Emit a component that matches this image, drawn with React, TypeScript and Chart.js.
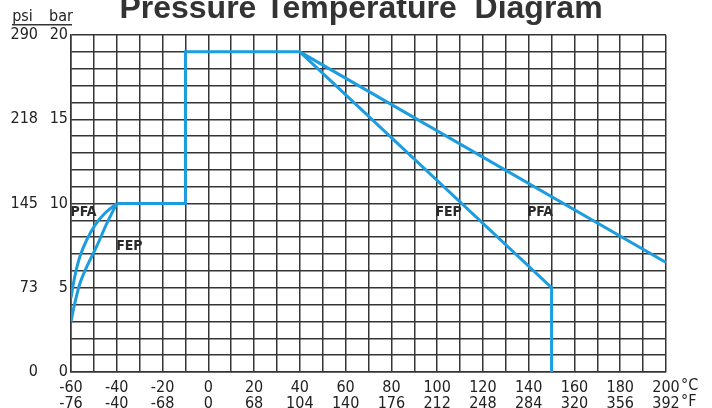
import React, { useEffect, useRef } from 'react';
import { Chart, registerables } from 'chart.js';

Chart.register(...registerables);

// Axis labels
const celsiusTicks = [-60, -40, -20, 0, 20, 40, 60, 80, 100, 120, 140, 160, 180, 200];
const fahrenheitLabels = ['-76', '-40', '-68', '0', '68', '104', '140', '176', '212', '248', '284', '320', '356', '392'];
const barTicks = [0, 5, 10, 15, 20];
const psiLabels = ['0', '73', '145', '218', '290'];

// Series (temperature °C, pressure bar)
const pfaCurveT = [-60, -58.3, -56.1, -53.1, -49.5, -45.2, -40];
const pfaCurveP = [4.4, 5.7, 6.85, 7.85, 8.72, 9.42, 10];
const fepCurveT = [-60, -58.3, -56.1, -53.1, -48.8, -44.4, -40];
const fepCurveP = [3.0, 4.1, 5.25, 6.25, 7.45, 8.8, 10];
const pfaLineT = [-40, -10, -10, 40, 200];
const pfaLineP = [10, 10, 19, 19, 6.5];
const fepLineT = [40, 150, 150];
const fepLineP = [19, 5, 0];

// Curve annotations (°C, bar)
const labelText = ['PFA', 'FEP', 'FEP', 'PFA'];
const labelT = [-54.5, -34.5, 105, 145];
const labelP = [9.5, 7.5, 9.5, 9.5];

const BLUE = '#1c9de0';
const GRID = '#353535';
const NARROW = '"DejaVu Sans Condensed", "Liberation Sans Narrow", sans-serif';

const toPts = (xs: number[], ys: number[]) => xs.map((x, i) => ({ x, y: ys[i] }));

const decor = {
  id: 'decor',
  afterDatasetsDraw(chart: any) {
    const { ctx, scales } = chart;
    const xs = scales.x;
    const ys = scales.y;
    ctx.save();
    ctx.font = `bold 14px ${NARROW}`;
    ctx.fillStyle = '#2a2a2a';
    ctx.textAlign = 'center';
    ctx.textBaseline = 'middle';
    labelText.forEach((t, i) => {
      ctx.fillText(t, xs.getPixelForValue(labelT[i]), ys.getPixelForValue(labelP[i]) + 0.5);
    });
    ctx.restore();
  },
  afterDraw(chart: any) {
    const { ctx, chartArea } = chart;
    ctx.save();
    ctx.setLineDash([]);
    ctx.globalAlpha = 1;
    // title
    ctx.font = 'bold 32px "Liberation Sans", Arial, sans-serif';
    ctx.fillStyle = '#333333';
    ctx.textAlign = 'center';
    ctx.textBaseline = 'alphabetic';
    ctx.fillText('Pressure Temperature  Diagram', 361, 18);
    // psi / bar header
    ctx.font = `16px ${NARROW}`;
    ctx.fillStyle = '#222';
    ctx.fillText('psi', 22.5, 21);
    ctx.fillText('bar', 61, 21);
    ctx.fillStyle = '#333';
    ctx.fillRect(12, 24, 60, 1.5);
    // units
    ctx.fillStyle = '#222';
    ctx.textAlign = 'left';
    ctx.textBaseline = 'middle';
    const ux = chartArea.right + 15;
    ctx.fillText('°C', ux, 386);
    ctx.fillText('°F', ux, 402);
    ctx.restore();
  },
};

export default function App() {
  const ref = useRef<HTMLCanvasElement | null>(null);
  useEffect(() => {
    if (!ref.current) return;
    const lineStyle = {
      borderColor: BLUE,
      borderWidth: 3,
      pointRadius: 0,
      fill: false,
    };
    const chart = new Chart(ref.current, {
      type: 'line',
      data: {
        datasets: [
          { ...lineStyle, label: 'PFA curve', data: toPts(pfaCurveT, pfaCurveP), tension: 0.35 },
          { ...lineStyle, label: 'FEP curve', data: toPts(fepCurveT, fepCurveP), tension: 0.35 },
          { ...lineStyle, label: 'PFA', data: toPts(pfaLineT, pfaLineP), tension: 0 },
          { ...lineStyle, label: 'FEP', data: toPts(fepLineT, fepLineP), tension: 0 },
        ] as any,
      },
      options: {
        animation: false,
        responsive: false,
        layout: { padding: { top: 35, right: 46, left: 0, bottom: 0 } },
        plugins: { legend: { display: false }, tooltip: { enabled: false }, title: { display: false } },
        scales: {
          x: {
            type: 'linear',
            min: -60,
            max: 200,
            afterFit: (s: any) => { s.height = 36; },
            grid: { color: GRID, lineWidth: 1.5, drawTicks: false },
            border: { display: true, color: GRID, width: 1.5 },
            ticks: {
              stepSize: 10,
              autoSkip: false,
              maxRotation: 0,
              padding: 8,
              color: '#222',
              font: { family: NARROW, size: 16, lineHeight: 1.0 },
              callback: (v: any) => {
                const i = celsiusTicks.indexOf(Number(v));
                return i >= 0 ? [String(celsiusTicks[i]), fahrenheitLabels[i]] : '';
              },
            },
          },
          y: {
            type: 'linear',
            position: 'left',
            weight: 0,
            min: 0,
            max: 20,
            afterFit: (s: any) => { s.width = 27; },
            grid: { color: GRID, lineWidth: 1.5, drawTicks: false },
            border: { display: true, color: GRID, width: 1.5 },
            ticks: {
              stepSize: 1,
              autoSkip: false,
              padding: 3,
              color: '#222',
              font: { family: NARROW, size: 16 },
              callback: (v: any) => (barTicks.includes(Number(v)) ? String(v) : ''),
            },
          },
          psi: {
            type: 'linear',
            position: 'left',
            weight: 10,
            min: 0,
            max: 20,
            afterFit: (s: any) => { s.width = 44; },
            grid: { display: false, drawTicks: false },
            border: { display: false },
            ticks: {
              stepSize: 5,
              autoSkip: false,
              padding: 6,
              color: '#222',
              font: { family: NARROW, size: 16 },
              callback: (v: any) => {
                const i = barTicks.indexOf(Number(v));
                return i >= 0 ? psiLabels[i] : '';
              },
            },
          },
        },
      } as any,
      plugins: [decor],
    });
    return () => chart.destroy();
  }, []);
  return (
    <div style={{ position: 'absolute', left: 0, top: 0, width: 712, height: 408, background: '#fff' }}>
      <canvas ref={ref} width={712} height={408} />
    </div>
  );
}
